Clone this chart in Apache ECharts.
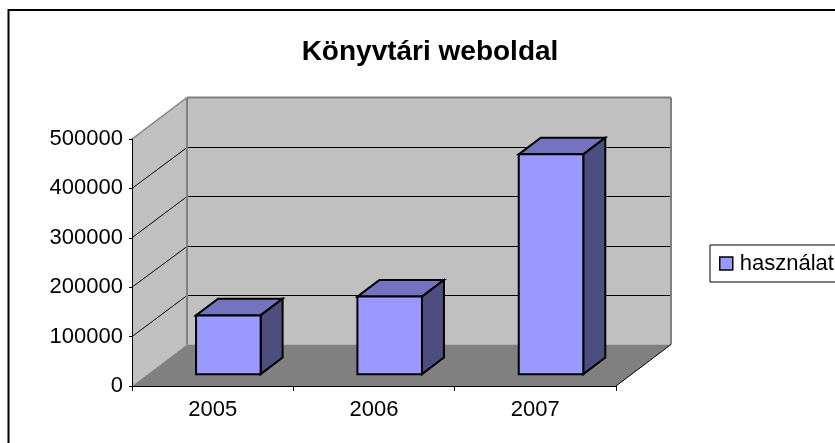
<!DOCTYPE html>
<html>
<head>
<meta charset="utf-8">
<style>
  html, body { margin: 0; padding: 0; background: #fff; }
  #chart { width: 835px; height: 443px; }
</style>
<script src="https://cdn.jsdelivr.net/npm/echarts@6/dist/echarts.min.js"></script>
</head>
<body>
<div id="chart"></div>
<script>
// data
const years = ['2005', '2006', '2007'];
const usage = [119000, 157000, 445000];
const valueTicks = [0, 100000, 200000, 300000, 400000, 500000];
const seriesName = 'használat';

// fake 3D: how far the back wall sits from the axes, in pixels
const depthX = 55;
const depthY = -41.5;
const barGap = 0.285;  // share of the depth in front of a bar
const barDepth = 0.4;  // share of the depth taken by a bar
const barWidth = 0.4;  // share of the category band

const font = '"Liberation Sans", Arial, sans-serif';
const myChart = echarts.init(document.getElementById('chart'));

function poly(points, fill, stroke, width) {
    return {
        type: 'polygon',
        shape: { points: points },
        style: { fill: fill, stroke: stroke || 'none', lineWidth: width || 0, lineJoin: 'miter' }
    };
}

function line(x1, y1, x2, y2, color, width) {
    return {
        type: 'line',
        shape: { x1: x1, y1: y1, x2: x2, y2: y2 },
        style: { stroke: color, lineWidth: width }
    };
}

// walls, floor and gridlines
function renderWalls(params, api) {
    const band = api.size([1, 0])[0];
    const left = api.coord([0, 0])[0] - band / 2;
    const right = left + band * years.length;
    const y0 = api.coord([0, valueTicks[0]])[1];
    const yTop = api.coord([0, valueTicks[valueTicks.length - 1]])[1];
    const backL = left + depthX;
    const backR = right + depthX;
    const children = [
        poly([[backL, yTop + depthY], [backR, yTop + depthY], [backR, y0 + depthY], [backL, y0 + depthY]], '#c0c0c0'),
        poly([[left, y0], [left, yTop], [backL, yTop + depthY], [backL, y0 + depthY]], '#c0c0c0'),
        poly([[left, y0], [right, y0], [backR, y0 + depthY], [backL, y0 + depthY]], '#808080')
    ];
    valueTicks.slice(1, -1).forEach(v => {
        const y = api.coord([0, v])[1];
        const yBack = Math.round(y + depthY) + 0.5;
        children.push(line(left, y, backL, yBack, '#000', 1));
        children.push(line(backL, yBack, backR - 1, yBack, '#000', 1));
    });
    // top and back edges of the walls are grey
    children.push(line(left, yTop, backL, yTop + depthY, '#808080', 1.5));
    children.push(line(backL, yTop + depthY, backR, yTop + depthY, '#808080', 2));
    children.push(line(backR, yTop + depthY, backR, y0 + depthY, '#808080', 2));
    children.push(line(backL, yTop + depthY, backL, y0 + depthY, '#808080', 2));
    children.push(line(right, y0, backR, y0 + depthY, '#000', 1));
    return { type: 'group', children: children };
}

function renderBar(params, api) {
    const base = api.coord([api.value(0), 0]);
    const top = api.coord([api.value(0), api.value(1)]);
    const band = api.size([1, 0])[0];
    const w = band * barWidth;
    const x1 = base[0] - w / 2 + depthX * barGap;
    const x2 = x1 + w;
    const yB = base[1] + depthY * barGap;
    const yT = top[1] + depthY * barGap;
    const dx = depthX * barDepth;
    const dy = depthY * barDepth;
    return {
        type: 'group',
        children: [
            poly([[x1, yT], [x1 + dx, yT + dy], [x2 + dx, yT + dy], [x2, yT]], '#7373bf', '#000', 2),
            poly([[x2, yT], [x2 + dx, yT + dy], [x2 + dx, yB + dy], [x2, yB]], '#4d4d80', '#000', 2),
            poly([[x1, yT], [x2, yT], [x2, yB], [x1, yB]], '#9999ff', '#000', 2)
        ]
    };
}

const option = {
    animation: false,
    backgroundColor: '#fff',
    textStyle: { fontFamily: font },
    title: {
        text: 'Könyvtári weboldal',
        left: 425,
        top: 33,
        textAlign: 'center',
        textStyle: { fontFamily: font, fontSize: 28, fontWeight: 'bold', color: '#000' }
    },
    legend: {
        data: [seriesName],
        left: 710,
        top: 245,
        orient: 'vertical',
        icon: 'rect',
        itemWidth: 13,
        itemHeight: 13,
        padding: [7.5, 40, 7.5, 9],
        backgroundColor: '#fff',
        borderColor: '#000',
        borderWidth: 1,
        borderRadius: 0,
        itemStyle: { borderColor: '#000', borderWidth: 1.5 },
        textStyle: { fontFamily: font, fontSize: 22, color: '#000', padding: [0, 0, 0, 2] }
    },
    grid: { left: 132, right: 219, top: 139, bottom: 57, containLabel: false },
    xAxis: {
        type: 'category',
        data: years,
        z: 5,
        axisLine: { lineStyle: { color: '#000', width: 1 } },
        axisTick: { show: true, alignWithLabel: false, length: 5, lineStyle: { color: '#000' } },
        axisLabel: { color: '#000', fontSize: 22, margin: 13, fontFamily: font },
        splitLine: { show: false }
    },
    yAxis: {
        type: 'value',
        min: 0,
        max: 500000,
        interval: 100000,
        z: 5,
        axisLine: { show: true, lineStyle: { color: '#000', width: 1 } },
        axisTick: { show: true, length: 3, lineStyle: { color: '#000' } },
        axisLabel: { color: '#000', fontSize: 22, margin: 9, fontFamily: font, formatter: v => String(v) },
        splitLine: { show: false }
    },
    series: [
        {
            type: 'custom',
            name: 'walls',
            z: 1,
            silent: true,
            clip: false,
            renderItem: renderWalls,
            data: [[0, 0]]
        },
        {
            type: 'custom',
            name: seriesName,
            z: 2,
            clip: false,
            itemStyle: { color: '#9999ff' },
            renderItem: renderBar,
            encode: { x: 0, y: 1 },
            data: usage.map((v, i) => [i, v])
        }
    ],
    graphic: [
        // chart frame, its right and bottom edges fall outside the picture
        {
            type: 'rect',
            silent: true,
            z: 10,
            shape: { x: 8.5, y: 10, width: 1000, height: 1000 },
            style: { fill: 'none', stroke: '#000', lineWidth: 2 }
        }
    ]
};

myChart.setOption(option);

window.addEventListener('resize', () => {
    myChart.resize();
});
</script>
</body>
</html>
